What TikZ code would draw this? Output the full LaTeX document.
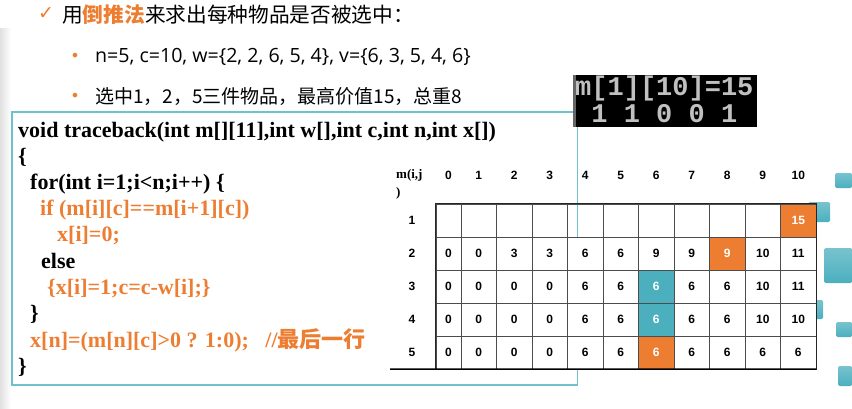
\documentclass[tikz,border=0pt]{standalone}
\usepackage{fontspec}
\setmainfont{Liberation Serif}
\newfontfamily\cjk{Noto Sans CJK SC}
\newfontfamily\latinsans{Open Sans}
\newfontfamily\sym{DejaVu Sans}
\newfontfamily\numfont{Liberation Sans}
\newfontfamily\consolefont{Liberation Mono}
\usepackage{tikz}
\usetikzlibrary{positioning}
\definecolor{hotorange}{HTML}{ED7D31}
\definecolor{coolteal}{HTML}{4BAFBE}
\definecolor{boxteal}{HTML}{6CC3CC}
\definecolor{consolegray}{HTML}{C0C0C0}
\tikzstyle{codeline} = [anchor=base west, inner sep=0pt, font=\bfseries\fontsize{22}{24}\selectfont]
\tikzstyle{codehot} = [codeline, text=hotorange]
\tikzstyle{mcell} = [draw=black!70, fill=white, inner sep=0pt, minimum height=33pt, font=\numfont\bfseries\fontsize{12}{14}\selectfont]
\tikzstyle{headnum} = [inner sep=0pt, font=\numfont\bfseries\fontsize{12}{14}\selectfont]
\tikzstyle{bullettext} = [anchor=west, inner sep=0pt, font=\cjk\fontsize{19}{22}\selectfont]
\tikzstyle{bulletdot} = [text=hotorange, inner sep=0pt, font=\sym\fontsize{16}{16}\selectfont]
\tikzstyle{console} = [anchor=base west, inner sep=0pt, text=consolegray, font=\consolefont\bfseries\fontsize{27}{27}\selectfont]

\begin{document}
\begin{tikzpicture}[x=1pt, y=-1pt]
    \tikzset{row-1/.style={fill=none},
        m-1-10/.style={fill=hotorange, text=white},
        m-2-8/.style={fill=hotorange, text=white},
        m-3-6/.style={fill=coolteal, text=white},
        m-4-6/.style={fill=coolteal, text=white},
        m-5-6/.style={fill=hotorange, text=white}}
    \useasboundingbox (0,0) rectangle (852,408);
    % slide edge
    \shade[left color=black!12, right color=white] (0,28) rectangle (11,408);
    % heading and bullets
    \node[text=hotorange, inner sep=0pt, font=\sym\fontsize{19}{19}\selectfont] (tick) at (46,14) {✓};
    \node[anchor=west, inner sep=0pt, font=\cjk\fontsize{20.7}{24}\selectfont] (title) at (62,15) {用\textcolor{hotorange}{\bfseries 倒推法}来求出每种物品是否被选中：};
    \node[bulletdot] (dot1) at (75,57) {•};
    \node[bullettext, font=\latinsans\fontsize{19.6}{22}\selectfont] (data) at (95,57) {n=5, c=10, w=\{2, 2, 6, 5, 4\}, v=\{6, 3, 5, 4, 6\}};
    \node[bulletdot] (dot2) at (75,97) {•};
    \node[bullettext] (result) at (95,97) {选中1，2，5三件物品，最高价值15，总重8};
    % cubes on the right
    \foreach \a/\b/\c/\d in {835/173/852/188, 808/202/830/222, 824/248/852/283, 805/300/823/319, 836/322/852/337, 838/366/852/386}
        \shade[top color=coolteal!75!white, bottom color=coolteal, rounded corners=1.5pt] (\a,\b) rectangle (\c,\d);
    % code box
    \draw[boxteal, line width=1.2pt] (12,112) rectangle (577.5,385);
    \node[codeline] (l1) at (18,137) {void traceback(int m[][11],int w[],int c,int n,int x[])};
    \node[codeline] (l2) at (18,163) {\{};
    \node[codeline] (l3) at (30,189) {for(int i=1;i<n;i++) \{};
    \node[codehot] (l4) at (40,215) {if (m[i][c]==m[i+1][c])};
    \node[codehot] (l5) at (57,241) {x[i]=0;};
    \node[codeline] (l6) at (41,268) {else};
    \node[codehot] (l7) at (47,294) {\{x[i]=1;c=c-w[i];\}};
    \node[codeline] (l8) at (30,320) {\}};
    \node[codehot] (l9) at (30,347) {x[n]=(m[n][c]>0 ? 1:0);\ \ \ //{\cjk 最后一行}};
    \node[codeline] (l10) at (18,373) {\}};
    % console output
    \node[fill=black, anchor=north west, inner sep=0pt, minimum width=184pt, minimum height=52pt] (screen) at (573,75) {};
    \draw[black!60, line width=2.5pt] ([xshift=1.25pt]screen.north west) -- ([xshift=1.25pt]screen.south west);
    \node[console] (out1) at (575,95) {m[1][10]=15};
    \node[console] (out2) at (575,122) {\ 1 1 0 0 1};
    % table m(i,j)
    \node[anchor=west, inner sep=0pt, align=left, font=\bfseries\fontsize{13}{18}\selectfont] (corner) at (396,184) {m(i,j\\)};
    \foreach \j in {0,...,10} {
        \pgfmathsetmacro\cx{\j==0 ? 448.35 : 461+(\j-0.5)*35.5}
        \node[headnum] (h\j) at (\cx,175) {\j};
    }
    \foreach \i/\vals in {1/{{},{},{},{},{},{},{},{},{},{},15},
                          2/{0,0,3,3,6,6,9,9,9,10,11},
                          3/{0,0,0,0,6,6,6,6,6,10,11},
                          4/{0,0,0,0,6,6,6,6,6,10,10},
                          5/{0,0,0,0,6,6,6,6,6,6,6}} {
        \node[headnum] (r\i) at (412,{220.5+33*(\i-1)}) {\i};
        \foreach \v [count=\j from 0] in \vals {
            \pgfmathsetmacro\cx{\j==0 ? 448.35 : 461+(\j-0.5)*35.5}
            \pgfmathsetmacro\cw{\j==0 ? 25.3 : 35.5}
            \node[mcell, minimum width=\cw pt, row-\i/.try, m-\i-\j/.try] (m-\i-\j) at (\cx,{220.5+33*(\i-1)}) {\v};
        }
    }
    \draw[black!85, line width=0.9pt] (m-1-0.north west) rectangle (m-5-10.south east);
    \coordinate (rulestart) at (390,369);
    \draw[line width=1.5pt] (rulestart) -- (m-5-10.south east);
\end{tikzpicture}
\end{document}
